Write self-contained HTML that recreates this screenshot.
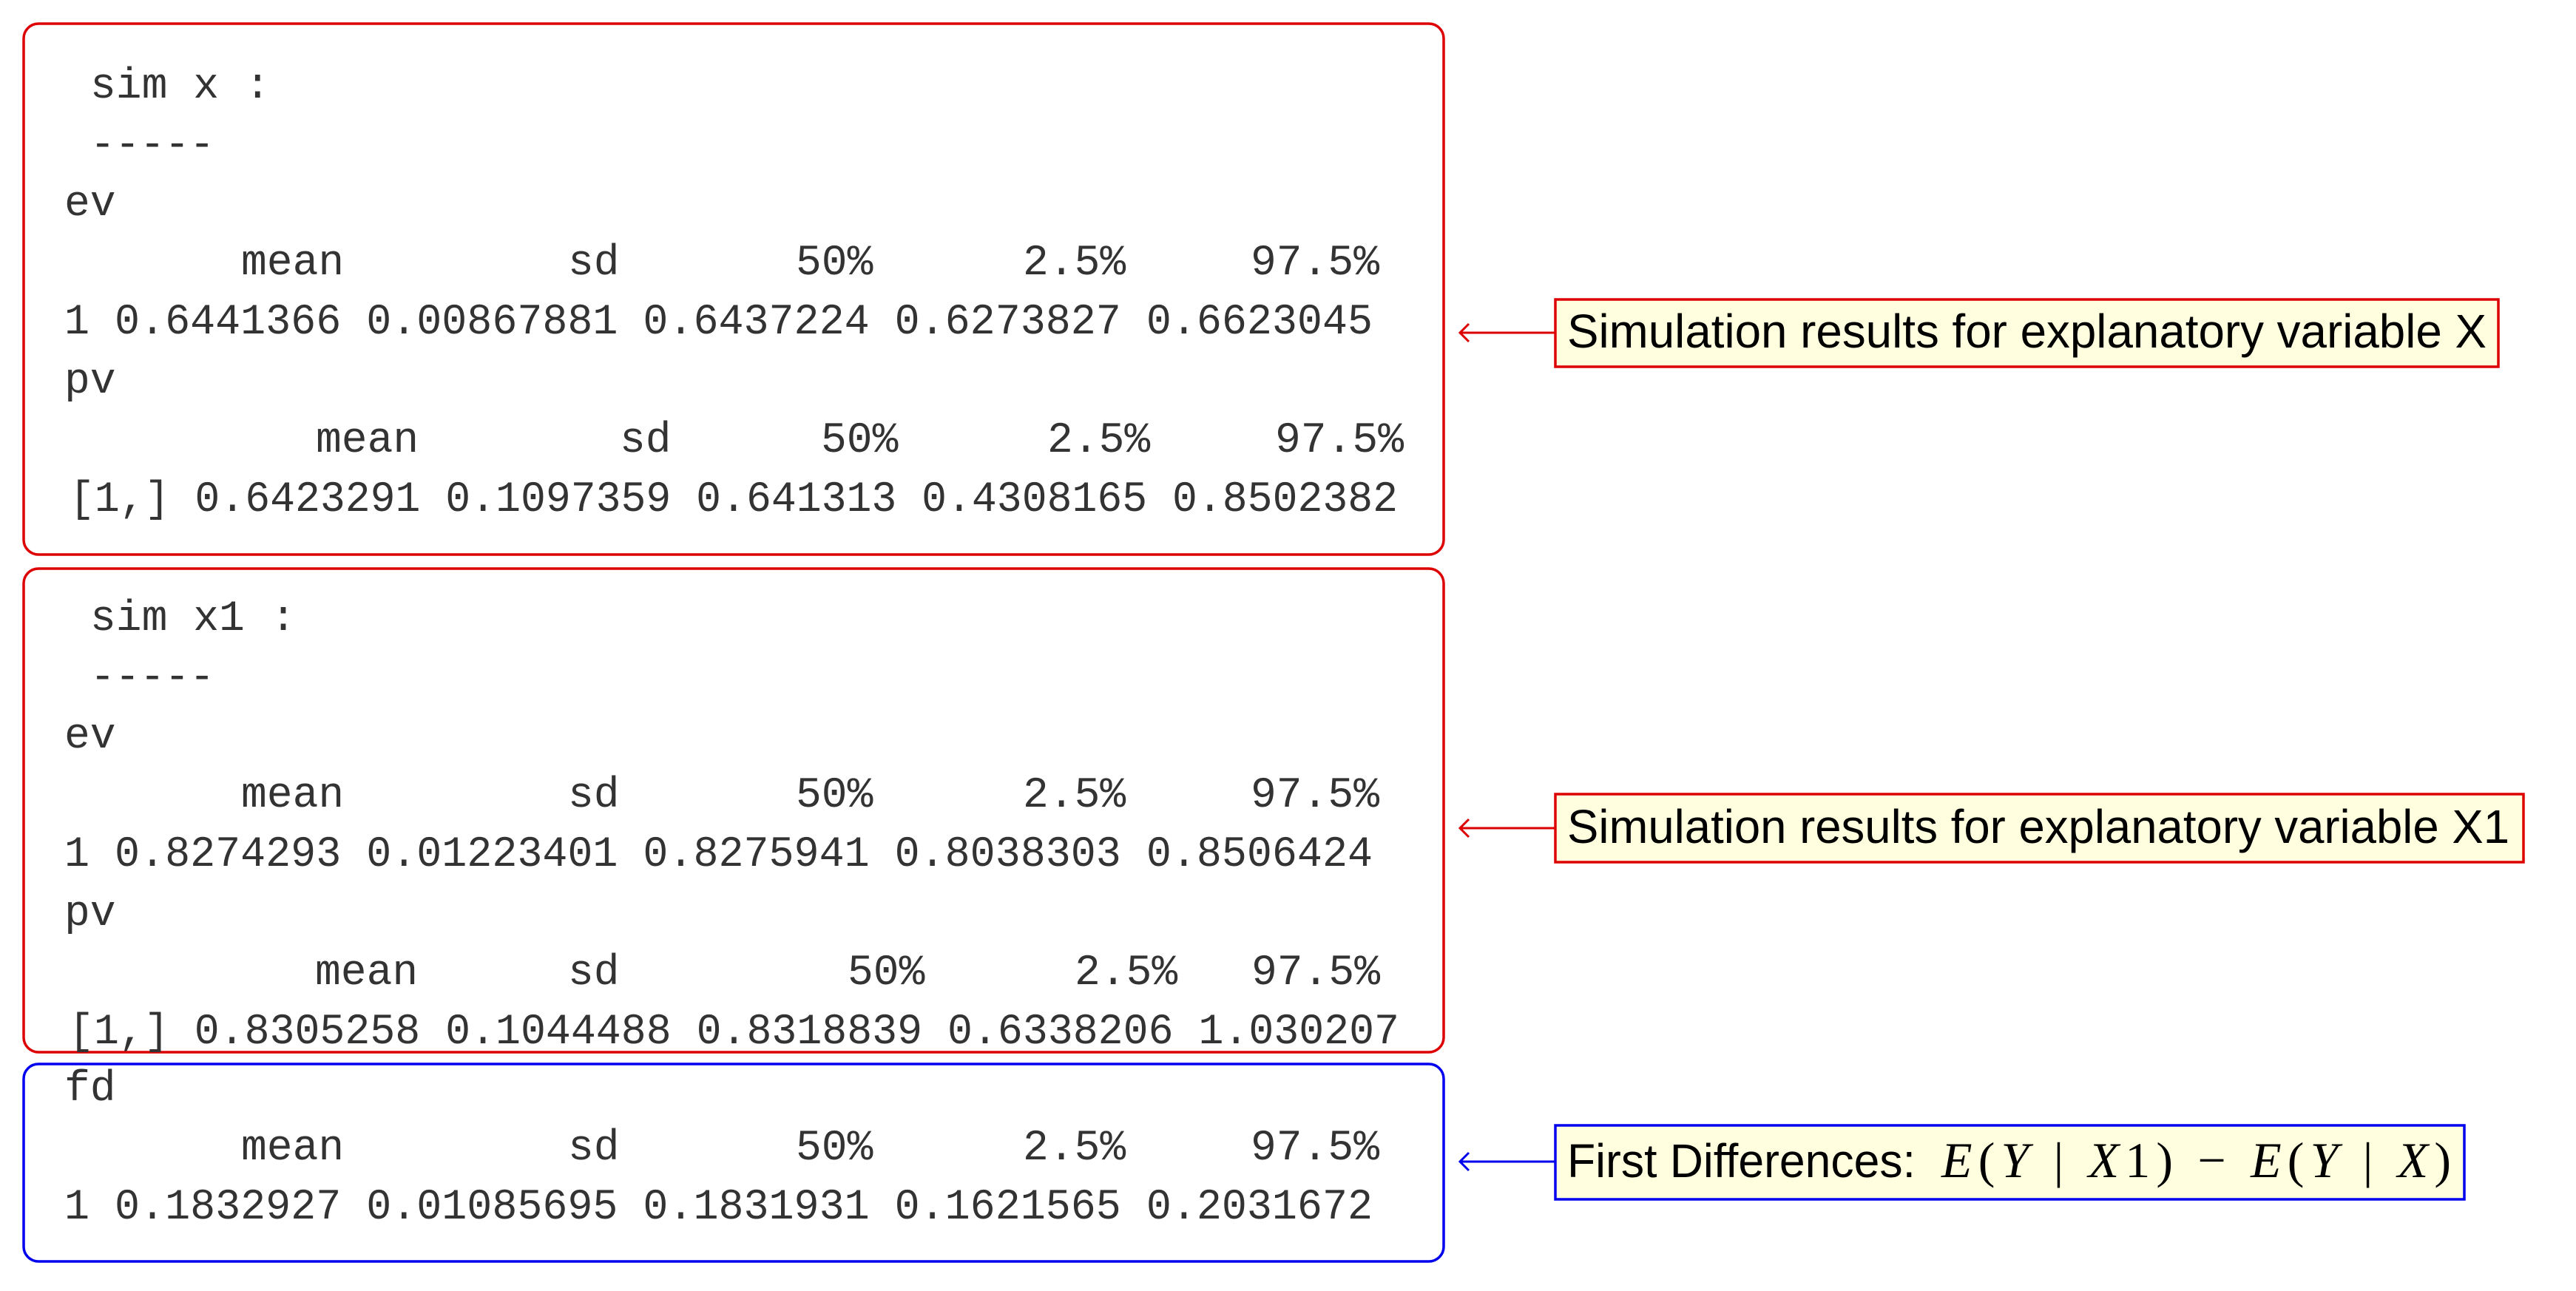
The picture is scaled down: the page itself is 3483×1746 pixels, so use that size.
<!DOCTYPE html>
<html><head><meta charset="utf-8"><style>html,body{margin:0;padding:0;background:#fff}svg{display:block}</style></head>
<body>
<svg width="3483" height="1746" viewBox="0 0 3483 1746" xmlns="http://www.w3.org/2000/svg">
<rect width="3483" height="1746" fill="#fff"/>
<g fill="none" stroke-width="3.5">
<rect x="32" y="32" width="1920" height="718" rx="20" stroke="#dd0000"/>
<rect x="32" y="769" width="1920" height="654" rx="20" stroke="#dd0000"/>
<rect x="32" y="1439" width="1920" height="267" rx="20" stroke="#0000ee"/>
</g>
<g font-family="'Liberation Mono', monospace" font-size="58" fill="#333">
<text x="122" y="132">sim x :</text>
<text x="122" y="212" textLength="168" lengthAdjust="spacingAndGlyphs">-----</text>
<text x="87" y="291">ev</text>
<text x="326" y="371">mean</text><text x="768" y="371">sd</text><text x="1076" y="371">50%</text><text x="1383" y="371">2.5%</text><text x="1691" y="371">97.5%</text>
<text x="87" y="451" textLength="1769" lengthAdjust="spacingAndGlyphs">1 0.6441366 0.00867881 0.6437224 0.6273827 0.6623045</text>
<text x="87" y="531">pv</text>
<text x="427" y="611">mean</text><text x="838" y="611">sd</text><text x="1110" y="611">50%</text><text x="1416" y="611">2.5%</text><text x="1724" y="611">97.5%</text>
<text x="94" y="691" textLength="1796" lengthAdjust="spacingAndGlyphs">[1,] 0.6423291 0.1097359 0.641313 0.4308165 0.8502382</text>

<text x="122" y="852">sim x1 :</text>
<text x="122" y="932" textLength="168" lengthAdjust="spacingAndGlyphs">-----</text>
<text x="87" y="1011">ev</text>
<text x="326" y="1091">mean</text><text x="768" y="1091">sd</text><text x="1076" y="1091">50%</text><text x="1383" y="1091">2.5%</text><text x="1691" y="1091">97.5%</text>
<text x="87" y="1171" textLength="1769" lengthAdjust="spacingAndGlyphs">1 0.8274293 0.01223401 0.8275941 0.8038303 0.8506424</text>
<text x="87" y="1251">pv</text>
<text x="426" y="1331">mean</text><text x="768" y="1331">sd</text><text x="1146" y="1331">50%</text><text x="1453" y="1331">2.5%</text><text x="1692" y="1331">97.5%</text>
<text x="93" y="1411" textLength="1799" lengthAdjust="spacingAndGlyphs">[1,] 0.8305258 0.1044488 0.8318839 0.6338206 1.030207</text>

<text x="87" y="1488">fd</text>
<text x="326" y="1568">mean</text><text x="768" y="1568">sd</text><text x="1076" y="1568">50%</text><text x="1383" y="1568">2.5%</text><text x="1691" y="1568">97.5%</text>
<text x="87" y="1648" textLength="1769" lengthAdjust="spacingAndGlyphs">1 0.1832927 0.01085695 0.1831931 0.1621565 0.2031672</text>
</g>
<g stroke-width="3" fill="none">
<path d="M1974 450 H2103 M1986 438 Q1978 446 1974 450 Q1978 454 1986 462" stroke="#dd0000"/>
<path d="M1974 1120 H2103 M1986 1108 Q1978 1116 1974 1120 Q1978 1124 1986 1132" stroke="#dd0000"/>
<path d="M1974 1571 H2103 M1986 1559 Q1978 1567 1974 1571 Q1978 1575 1986 1583" stroke="#0000ee"/>
</g>
<rect x="2103" y="405" width="1275" height="91" fill="#ffffe0" stroke="#dd0000" stroke-width="3.5"/>
<rect x="2103" y="1074" width="1309" height="92" fill="#ffffe0" stroke="#dd0000" stroke-width="3.5"/>
<rect x="2103" y="1522" width="1229" height="100" fill="#ffffe0" stroke="#0000ee" stroke-width="3.5"/>
<g font-family="'Liberation Sans', sans-serif" font-size="64" fill="#000">
<text x="2119" y="470" textLength="1243" lengthAdjust="spacingAndGlyphs">Simulation results for explanatory variable X</text>
<text x="2119" y="1140" textLength="1274" lengthAdjust="spacingAndGlyphs">Simulation results for explanatory variable X1</text>
<text x="2119" y="1592" textLength="471" lengthAdjust="spacingAndGlyphs">First Differences:</text>
</g>
<text x="2625" y="1592" font-family="'Liberation Serif', serif" font-size="68" fill="#000" textLength="689" lengthAdjust="spacing"><tspan font-style="italic">E</tspan>(<tspan font-style="italic">Y</tspan> | <tspan font-style="italic">X</tspan>1) − <tspan font-style="italic">E</tspan>(<tspan font-style="italic">Y</tspan> | <tspan font-style="italic">X</tspan>)</text>
</svg>
</body></html>
